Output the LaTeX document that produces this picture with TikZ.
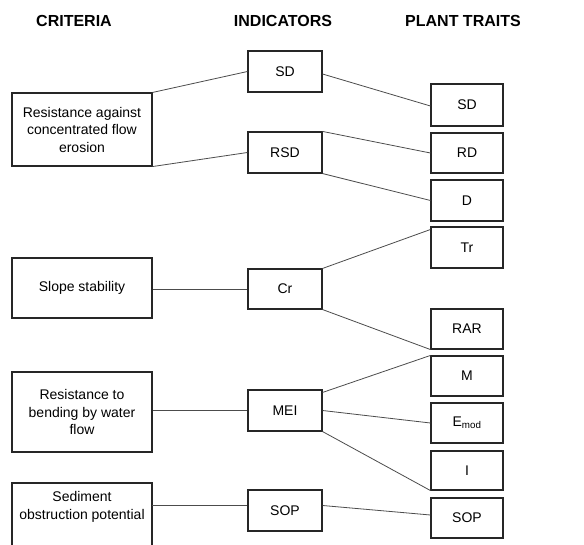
\documentclass[tikz,border=0pt]{standalone}
\usepackage{fontspec}
\setmainfont{Liberation Sans}
\begin{document}
\begin{tikzpicture}[x=1pt,y=-1pt,
  box/.style={draw=black!85, line width=1.1pt, inner sep=0pt, align=center,
    font=\fontsize{14}{17.5}\selectfont},
  crit/.style={box, minimum width=140pt},
  ind/.style={box, minimum width=74pt, minimum height=41pt},
  trait/.style={box, minimum width=72pt, minimum height=41pt},
  head/.style={font=\fontsize{16}{19}\selectfont\bfseries, inner sep=0pt},
  link/.style={draw=black!70, line width=0.8pt}]
\useasboundingbox (0,0) rectangle (584,545);
\fill[white] (0,0) rectangle (584,545);
% headers
\node[head] (h1) at (74,21) {CRITERIA};
\node[head] (h2) at (283,21) {INDICATORS};
\node[head] (h3) at (463,21) {PLANT TRAITS};
% criteria
\node[crit, minimum height=73pt] (c1) at (82,129.5) {Resistance against\\concentrated flow\\erosion};
\node[crit, minimum height=60pt] (c2) at (82,288) {Slope stability};
\node[crit, minimum height=80pt] (c3) at (82,412) {Resistance to\\bending by water\\flow};
\node[crit, draw=none, minimum height=48pt] (c4) at (82,507) {Sediment\\obstruction potential};
\draw[draw=black!85, line width=1.1pt] (12,550) -- (12,483) -- (152,483) -- (152,550);
% indicators
\node[ind] (iSD) at (285,71.5) {SD};
\node[ind] (iRSD) at (285,152.5) {RSD};
\node[ind, minimum height=40pt] (iCr) at (285,289) {Cr};
\node[ind] (iMEI) at (285,410.5) {MEI};
\node[ind] (iSOP) at (285,510.5) {SOP};
% plant traits
\node[trait, minimum height=42pt] (pSD) at (467,105) {SD};
\node[trait, minimum height=40pt] (pRD) at (467,153) {RD};
\node[trait] (pD) at (467,200.5) {D};
\node[trait] (pTr) at (467,247.5) {Tr};
\node[trait, minimum height=40pt] (pRAR) at (467,329) {RAR};
\node[trait, minimum height=40pt] (pM) at (467,376) {M};
\node[trait, minimum height=40pt] (pE) at (467,423) {E\textsubscript{mod}};
\node[trait, minimum height=39pt] (pI) at (467,470.5) {I};
\node[trait, minimum height=40pt] (pSOP) at (467,518) {SOP};
% connectors criteria - indicators
\draw[link] (c1.north east) -- (iSD.west);
\draw[link] (c1.south east) -- (iRSD.west);
\draw[link] (iCr.west -| c2.east) -- (iCr.west);
\draw[link] (iMEI.west -| c3.east) -- (iMEI.west);
\coordinate (c4e) at (152,505.5);
\draw[link] (c4e) -- ([yshift=5pt]iSOP.west);
% connectors indicators - traits
\draw[link] ([yshift=-2.5pt]iSD.east) -- ([yshift=-1pt]pSD.west);
\draw[link] (iRSD.north east) -- (pRD.west);
\draw[link] (iRSD.south east) -- (pD.west);
\draw[link] (iCr.north east) -- ([yshift=18pt]pTr.west);
\draw[link] (iCr.south east) -- (pRAR.south west);
\draw[link] ([yshift=-3pt]iMEI.north east) -- (pM.north west);
\draw[link] (iMEI.east) -- (pE.west);
\draw[link] (iMEI.south east) -- (pI.south west);
\draw[link] ([yshift=5pt]iSOP.east) -- ([yshift=3pt]pSOP.west);
\end{tikzpicture}
\end{document}
